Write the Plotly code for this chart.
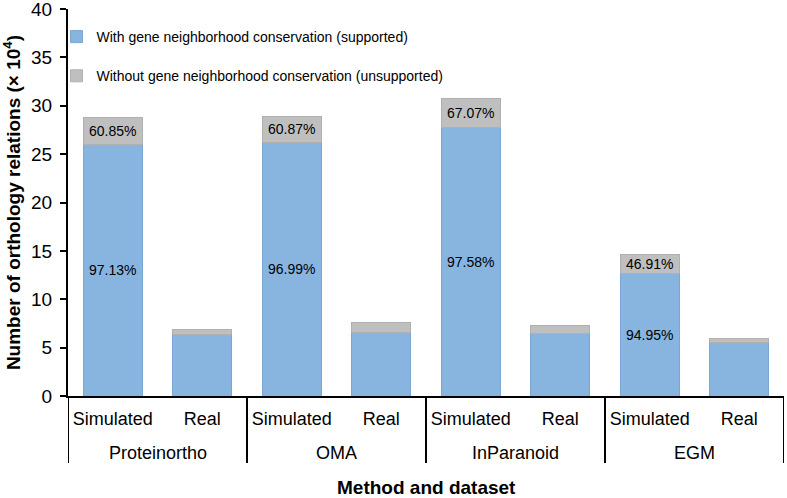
import plotly.graph_objects as go

methods = ["Proteinortho", "Proteinortho", "OMA", "OMA", "InParanoid", "InParanoid", "EGM", "EGM"]
datasets = ["Simulated", "Real", "Simulated", "Real", "Simulated", "Real", "Simulated", "Real"]
supported = [26.0, 6.4, 26.2, 6.6, 27.8, 6.5, 12.7, 5.5]
unsupported = [2.8, 0.5, 2.7, 1.0, 3.0, 0.8, 1.9, 0.4]
supported_labels = ["97.13%", "", "96.99%", "", "97.58%", "", "94.95%", ""]
unsupported_labels = ["60.85%", "", "60.87%", "", "67.07%", "", "46.91%", ""]
y_ticks = [0, 5, 10, 15, 20, 25, 30, 35, 40]

FONT = "Arial, 'Liberation Sans', sans-serif"
BLUE = "#88B4E0"
GREY = "#BFBFBF"

xpos = list(range(len(datasets)))

fig = go.Figure()
fig.add_trace(go.Bar(
    x=xpos, y=supported,
    name="With gene neighborhood conservation (supported)",
    marker=dict(color=BLUE, line=dict(color="#7AA6D2", width=1)),
    text=supported_labels, textposition="inside", insidetextanchor="middle",
    textfont=dict(color="black", size=14, family=FONT),
    legendgroup="a",
))
fig.add_trace(go.Bar(
    x=xpos, y=unsupported,
    name="Without gene neighborhood conservation (unsupported)",
    marker=dict(color=GREY, line=dict(color="#B0B0B0", width=1)),
    text=unsupported_labels, textposition="inside", insidetextanchor="middle",
    textfont=dict(color="black", size=14, family=FONT),
    legendgroup="b",
))

# group labels and dividers, derived from the method list
groups = []
for i, m in enumerate(methods):
    if not groups or groups[-1][0] != m:
        groups.append([m, i, i])
    else:
        groups[-1][2] = i

for name, i0, i1 in groups:
    fig.add_annotation(x=(i0 + i1) / 2, xref="x", y=-0.147, yref="paper",
                       text=name, showarrow=False, yanchor="middle",
                       font=dict(size=18, family=FONT, color="black"))
boundaries = [g[1] - 0.5 for g in groups] + [groups[-1][2] + 0.5]
for b in boundaries:
    fig.add_shape(type="line", x0=b, x1=b, xref="x", y0=0, y1=-0.173, yref="paper",
                  line=dict(color="black", width=2))

fig.add_annotation(x=0.5, xref="paper", y=-0.237, yref="paper",
                   text="<b>Method and dataset</b>", showarrow=False, yanchor="middle",
                   font=dict(size=19, family=FONT, color="black"))

fig.update_layout(
    width=787, height=498,
    barmode="stack", bargap=0.34,
    plot_bgcolor="white", paper_bgcolor="white",
    font=dict(family=FONT, color="black", size=18),
    margin=dict(l=68, r=3, t=9, b=102),
    uniformtext=dict(minsize=14, mode="show"),
    legend=dict(x=-0.016, y=0.969, xanchor="left", yanchor="top",
                font=dict(size=14, family=FONT), tracegroupgap=18,
                bgcolor="rgba(0,0,0,0)", itemwidth=30),
    showlegend=True,
)
fig.update_yaxes(
    range=[0, 40], tickvals=y_ticks, showgrid=False, zeroline=False,
    showline=True, linecolor="black", linewidth=2,
    ticks="outside", ticklen=6, tickwidth=2, tickcolor="black",
    tickfont=dict(size=19), ticklabelstandoff=4, automargin=False,
    ticklabeloverflow="allow",
    title=dict(text="<b>Number of orthology relations (× 10<sup>4</sup>)</b>",
               font=dict(size=19), standoff=8),
)
fig.update_xaxes(
    range=[-0.5, len(datasets) - 0.5],
    tickvals=xpos, ticktext=datasets,
    showgrid=False, zeroline=False, showline=True, linecolor="black", linewidth=2,
    ticks="", tickfont=dict(size=18), ticklabelstandoff=5, automargin=False,
)

fig.write_html(
    "out.html",
    config={"displayModeBar": False},
    post_script="document.body.style.margin='0';document.body.style.overflow='hidden';",
)
